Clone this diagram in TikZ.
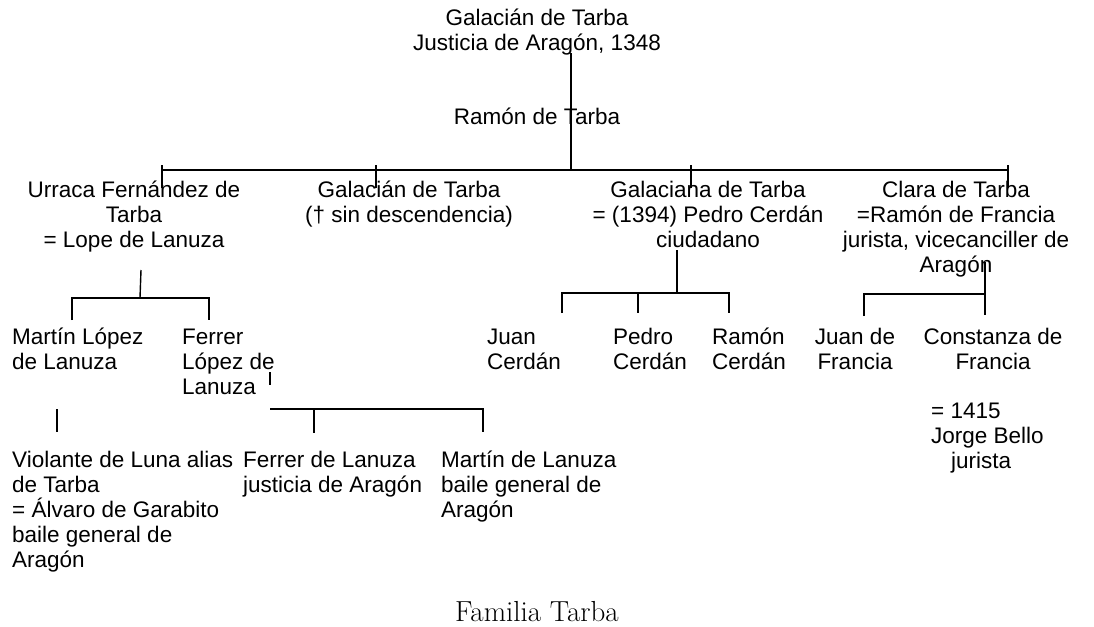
\documentclass[tikz,border=0pt]{standalone}
\usepackage{fontspec}
\setsansfont{Liberation Sans}
\usepackage{tikz}

\begin{document}
\begin{tikzpicture}[x=1pt,y=-1pt,pers/.style={font=\sffamily\fontsize{22.5}{25}\selectfont,inner sep=0pt,align=center},lpers/.style={pers,align=left,anchor=west},lin/.style={line width=1.4pt}]
\useasboundingbox (0,0) rectangle (1094,626);
\node[pers] (galacian) at (537,33.5) {\strut Galacián de Tarba\\Justicia de Aragón, 1348\strut};
\node[pers] (ramon) at (537,119) {\strut Ramón de Tarba\strut};
\node[pers] (urraca) at (134,217) {\strut Urraca Fernández de\\Tarba\\= Lope de Lanuza\strut};
\node[pers] (galacianb) at (409,204.5) {\strut Galacián de Tarba\\(\dag{} sin descendencia)\strut};
\node[pers] (galaciana) at (708,217) {\strut Galaciana de Tarba\\= (1394) Pedro Cerdán\\ciudadano\strut};
\node[pers] (clara) at (956,229.5) {\strut Clara de Tarba\\=Ramón de Francia\\jurista, vicecanciller de\\Aragón\strut};
\node[lpers] (martinlo) at (12,351.5) {\strut Martín López\\de Lanuza\strut};
\node[lpers] (ferrerlo) at (182,364) {\strut Ferrer\\López de\\Lanuza\strut};
\node[lpers] (juanc) at (487,351.5) {\strut Juan\\Cerdán\strut};
\node[lpers] (pedroc) at (613,351.5) {\strut Pedro\\Cerdán\strut};
\node[lpers] (ramonc) at (712,351.5) {\strut Ramón\\Cerdán\strut};
\node[pers] (juanf) at (855,351.5) {\strut Juan de\\Francia\strut};
\node[pers] (constanza) at (993,351.5) {\strut Constanza de\\Francia\strut};
\node[lpers] (jorge) at (931,438) {\strut = 1415\\Jorge Bello\\\hspace*{20pt}jurista\strut};
\node[lpers] (violante) at (12,512) {\strut Violante de Luna alias\\de Tarba\\= Álvaro de Garabito\\baile general de\\Aragón\strut};
\node[lpers] (ferrerla) at (243,474.5) {\strut Ferrer de Lanuza\\justicia de Aragón\strut};
\node[lpers] (martinla) at (441,487) {\strut Martín de Lanuza\\baile general de\\Aragón\strut};
\node[font=\fontsize{29}{30}\selectfont,inner sep=0pt] (titulo) at (537,612) {Familia Tarba};

\coordinate (bus) at (571,170);
\draw[lin] (571,53) -- (bus);
\draw[lin] (162,170) -- (1008,170);
\foreach \x in {162,376,691,1008} {
   \draw[lin] (\x,165) -- (\x,188);
}
\draw[lin] (141,270) -- (140,298);
\draw[lin] (72,320) |- (209,298) -- (209,320);
\draw[lin] (57,409) -- (57,432);
\draw[lin] (270,372) -- (270,385);
\draw[lin] (270,409) -- (483,409) -- (483,432);
\draw[lin] (314,409) -- (314,433);
\draw[lin] (677,250) -- (677,293);
\draw[lin] (562,313) |- (729,293) -- (729,313);
\draw[lin] (638,293) -- (638,313);
\draw[lin] (985,262) -- (985,315);
\draw[lin] (864,316) |- (985,294);
\end{tikzpicture}
\end{document}
